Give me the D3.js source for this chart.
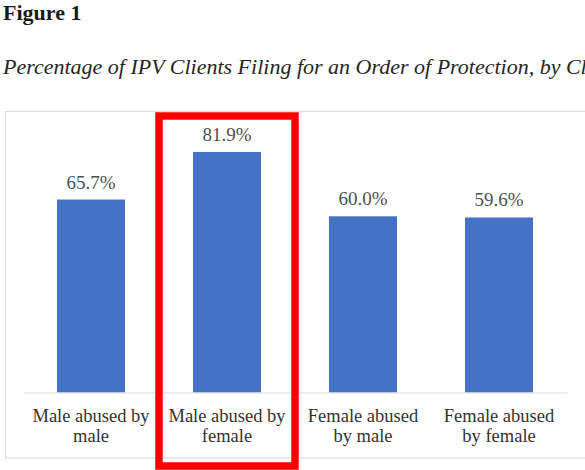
<!DOCTYPE html>
<html><head><meta charset="utf-8">
<script src="https://cdn.jsdelivr.net/npm/d3@7"></script>
<style>
html,body{margin:0;padding:0;background:#fff;}
svg{display:block;}
svg text{font-family:"Liberation Serif","Times New Roman",serif;}
</style></head>
<body>
<svg id="chart" width="585" height="470"></svg>
<script>
const figureLabel = "Figure 1";
const chartTitle = "Percentage of IPV Clients Filing for an Order of Protection, by Client Gender";
const categories = ["Male abused by\nmale", "Male abused by\nfemale", "Female abused\nby male", "Female abused\nby female"];
const values = [65.7, 81.9, 60.0, 59.6];
const highlighted = ["Male abused by\nfemale"];

const svg = d3.select("#chart");
const serif = "Liberation Serif, Times New Roman, serif";

svg.append("rect").attr("width",585).attr("height",470).attr("fill","#fff");

svg.append("text").attr("x",3).attr("y",20)
  .style("font-family",serif).attr("font-weight","bold").attr("font-size",22)
  .attr("fill","#1a1a1a").text(figureLabel);
svg.append("text").attr("x",3).attr("y",74)
  .style("font-family",serif).attr("font-style","italic").attr("font-size",22)
  .attr("fill","#262626").text(chartTitle);

// chart frame
svg.append("rect").attr("x",5.5).attr("y",111.5).attr("width",640).attr("height",346.5)
  .attr("fill","none").attr("stroke","#dcdcdc").attr("stroke-width",1.2);

const x = d3.scaleBand().domain(categories).range([23,567]).paddingInner(0.5).paddingOuter(0.25);
const y = d3.scaleLinear().domain([0,100]).range([392.5, 98.8]);

svg.selectAll("rect.bar").data(values).join("rect").attr("class","bar")
  .attr("x",(d,i)=>x(categories[i])).attr("width",x.bandwidth())
  .attr("y",d=>y(d)).attr("height",d=>y(0)-y(d)).attr("fill","#4472C4");

svg.selectAll("text.val").data(values).join("text").attr("class","val")
  .attr("x",(d,i)=>x(categories[i])+x.bandwidth()/2).attr("y",d=>y(d)-11)
  .attr("text-anchor","middle").style("font-family",serif).attr("font-size",19)
  .attr("fill","#505050").text(d=>d.toFixed(1)+"%");

const axis = svg.append("g").attr("transform",`translate(0,${y(0)})`)
  .call(d3.axisBottom(x).tickSize(0).tickSizeOuter(0))
  .attr("font-family",serif);
axis.select(".domain").attr("stroke","#d9d9d9").attr("stroke-width",1.2);
axis.selectAll(".tick text").each(function(d){
  const t = d3.select(this);
  t.text(null).style("font-family",serif).attr("font-size",18.5).attr("fill","#333333").attr("y",29).attr("dy",null);
  d.split("\n").forEach((line,i)=>{
    t.append("tspan").attr("x",0).attr("dy", i===0?0:"1.13em").text(line);
  });
});

// highlight box around band
highlighted.forEach(c=>{
  const pad = x.step()*x.paddingInner()/2;
  svg.append("rect").attr("x",x(c)-pad).attr("y",116)
    .attr("width",x.bandwidth()+2*pad).attr("height",350)
    .attr("fill","none").attr("stroke","#FF0000").attr("stroke-width",7.5);
});
</script>
</body></html>
